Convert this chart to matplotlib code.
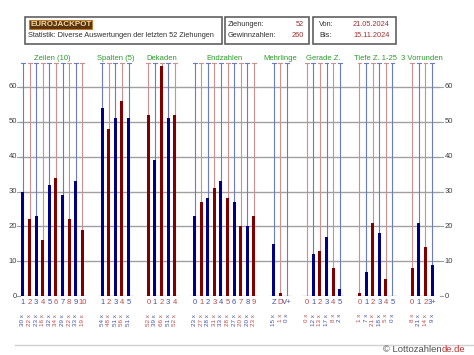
import numpy as np
import matplotlib.pyplot as plt
from matplotlib.patches import Rectangle

plt.rcParams['font.family'] = ['Liberation Sans', 'DejaVu Sans']

# Daten (Anzahl pro Kategorie)
zeilen = [30, 22, 23, 16, 32, 34, 29, 22, 33, 19]
spalten = [54, 48, 51, 56, 51]
dekaden = [52, 39, 66, 51, 52]
endzahlen = [23, 27, 28, 31, 33, 28, 27, 20, 20, 23]
mehrlinge = [15, 1, 0]
gerade = [0, 12, 13, 17, 8, 2]
tiefe = [1, 7, 21, 18, 5, 0]
vorrunden = [8, 21, 14, 9]

gruppen = [
    ("Zeilen (10)", zeilen, [str(i) for i in range(1, 11)], False),
    ("Spalten (5)", spalten, [str(i) for i in range(1, 6)], False),
    ("Dekaden", dekaden, [str(i) for i in range(5)], True),
    ("Endzahlen", endzahlen, [str(i) for i in range(10)], False),
    ("Mehrlinge", mehrlinge, ["Z", "D", "V+"], False),
    ("Gerade Z.", gerade, [str(i) for i in range(6)], True),
    ("Tiefe Z. 1-25", tiefe, [str(i) for i in range(6)], True),
    ("3 Vorrunden", vorrunden, ["0", "1", "2", "3+"], True),
]

W, H = 474, 355
fig = plt.figure(figsize=(W / 100, H / 100), dpi=100)

def fx(x):
    return x / W

def fy(y):
    return 1 - y / H

# Achse: y=0 bei Pixel 296, y=60 bei Pixel 87
ppu = (296 - 87) / 60.0
ytop = 68
ax = fig.add_axes([fx(20), fy(296), fx(440) - fx(20), ytop * ppu / H])
ax.set_xlim(-0.45, 63.2)
ax.set_ylim(0, ytop)
for s in ax.spines.values():
    s.set_visible(False)
ax.set_xticks([])
ax.set_yticks([])

grau = "#a0a0a0"
for v in range(10, 70, 10):
    ax.axhline(v, color=grau, lw=1, zorder=1)

def ylab(v):
    return (296 - v) / ppu

for v in range(0, 70, 10):
    ax.text(-0.9, v, str(v), ha="right", va="center", fontsize=5.5, color="#404040")
    ax.plot([-0.85, -0.45], [v, v], color=grau, lw=0.8, clip_on=False)
    ax.text(63.9, v, str(v), ha="left", va="center", fontsize=5.5, color="#404040")
    ax.plot([63.2, 63.7], [v, v], color=grau, lw=0.8, clip_on=False)

blau_bar, rot_bar = "#000080", "#800000"
blau_lin, rot_lin = "#6c7cc4", "#cc9090"
blau_txt, rot_txt = "#4050b0", "#c04848"

start = 0
for titel, werte, labels, rot_zuerst in gruppen:
    n = len(werte)
    xs = np.arange(start, start + n)
    ax.plot([start - 0.5, start + n - 0.5], [0, 0], color=grau, lw=1, zorder=1)
    for i, (x, v, lab) in enumerate(zip(xs, werte, labels)):
        rot = (i % 2 == 0) == rot_zuerst
        cb = rot_bar if rot else blau_bar
        cl = rot_lin if rot else blau_lin
        ct = rot_txt if rot else blau_txt
        ax.vlines(x, 0, 67, color=cl, lw=0.8, zorder=2)
        ax.plot([x - 0.3, x + 0.3], [67, 67], color=cl, lw=0.8, zorder=2, clip_on=False)
        ax.bar(x, v, width=0.45, color=cb, zorder=3)
        ax.text(x, ylab(302), lab, ha="center", va="center", fontsize=5.5,
                color=ct, clip_on=False)
        ax.text(x, ylab(314), f"{v} x", ha="center", va="top", rotation=90,
                fontsize=4.5, color=ct, clip_on=False)
    ax.text(start + (n - 1) / 2, ylab(58), titel, ha="center", va="center",
            fontsize=5.5, color="#2a9a2a", clip_on=False)
    start += n + 2

# Kopfbereich
for x0, x1 in [(25, 222), (225, 309), (313, 396)]:
    fig.patches.append(Rectangle((fx(x0), fy(44)), fx(x1) - fx(x0), fy(17) - fy(44),
                                 transform=fig.transFigure, fill=False,
                                 edgecolor="#606060", lw=1.2))

dunkel = "#303030"
hrot = "#a03030"
fs = 5.3
fig.text(fx(30), fy(24.5), "EUROJACKPOT", fontsize=5.8, fontweight="bold",
         color="#f2d9a0", ha="left", va="center",
         bbox=dict(boxstyle="square,pad=0.15", facecolor="#5a3510", edgecolor="#c07a30", lw=0.8))
fig.text(fx(28), fy(35.5), "Statistik: Diverse Auswertungen der letzten 52 Ziehungen",
         fontsize=fs, color=dunkel, ha="left", va="center")
fig.text(fx(228), fy(24.5), "Ziehungen:", fontsize=fs, color=dunkel, va="center")
fig.text(fx(304), fy(24.5), "52", fontsize=fs, color=hrot, va="center", ha="right")
fig.text(fx(228), fy(35.5), "Gewinnzahlen:", fontsize=fs, color=dunkel, va="center")
fig.text(fx(304), fy(35.5), "260", fontsize=fs, color=hrot, va="center", ha="right")
fig.text(fx(319), fy(24.5), "Von:", fontsize=fs, color=dunkel, va="center")
fig.text(fx(353), fy(24.5), "21.05.2024", fontsize=fs, color=hrot, va="center")
fig.text(fx(319), fy(35.5), "Bis:", fontsize=fs, color=dunkel, va="center")
fig.text(fx(353), fy(35.5), "15.11.2024", fontsize=fs, color=hrot, va="center")

# Fußzeile
fig.add_artist(plt.Line2D([fx(15), fx(474)], [fy(345), fy(345)], color="#d0d0d0", lw=1,
                          transform=fig.transFigure))
t1 = fig.text(fx(383), fy(350), "© Lottozahlen", fontsize=6.8, color="#505050", va="center")
fig.canvas.draw()
bb = t1.get_window_extent()
fig.text(bb.x1 / W, fy(350), "de.de", fontsize=6.8, color="#c03030", va="center")

fig.savefig("out.png", dpi=100)
